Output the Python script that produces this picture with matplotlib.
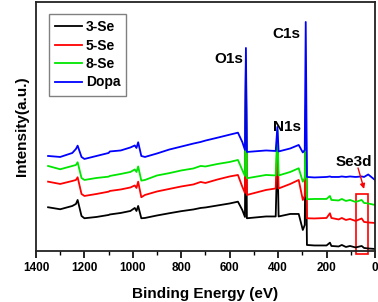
import matplotlib
matplotlib.use("Agg")
import matplotlib.pyplot as plt
from matplotlib.patches import Rectangle

plt.rcParams['font.family'] = ['Liberation Sans', 'DejaVu Sans']
plt.rcParams['font.weight'] = 'bold'

# Binding energy grid (eV)
energy = [1350, 1300, 1250, 1235, 1228, 1212, 1200, 1150, 1100, 1095, 1050, 1010,
          992, 985, 978, 965, 950, 900, 850, 800, 750, 720, 700, 650, 600, 566,
          548, 537, 533, 529, 450, 410, 403, 398, 350, 315, 298, 290, 286, 281,
          250, 200, 186, 180, 150, 137, 120, 103, 80, 55, 45, 28, 0]

# Intensities (a.u.)
se3 = [43.7, 41.7, 45, 47, 51, 35, 32.7, 34, 36, 36.5, 38, 40, 43, 40, 45, 32.7,
       33, 35.5, 37.7, 39.8, 41.5, 43, 43.5, 45.5, 47.5, 49.3, 41, 34, 181, 32.7,
       34.5, 34.5, 101, 34.5, 37, 37, 21, 26, 131, 6, 5.5, 5.5, 8.3, 5, 4.5, 6,
       4, 5, 3.5, 5, 3, 2.5, 2]
se5 = [69.3, 67, 70, 71, 73.7, 57, 55, 57, 59.3, 60, 61.5, 63.5, 65.5, 63, 69.3,
       53.7, 56, 59.5, 62, 64.5, 66.5, 69, 68, 71.5, 74.5, 76, 64.3, 58, 189, 56,
       61, 62.5, 111, 62.5, 67, 71, 51, 55, 141, 32.7, 32.5, 33, 37.7, 33, 31.5,
       33, 31, 32, 30, 32.5, 29, 28.5, 28]
se8 = [85, 81.7, 85, 86, 88.7, 73, 71, 73, 74.3, 75, 77, 79, 81.5, 79, 84.5, 70.3,
       71, 75.5, 77.8, 80.5, 82.5, 85, 84.5, 87, 89, 91, 81, 75, 191, 72.7, 76,
       75.5, 121, 75.5, 79, 82.7, 69.3, 73, 146, 51.7, 52, 52, 55, 51, 50.5, 52,
       50, 51, 49, 51, 48, 47.5, 46]
dopa = [95, 94, 98, 102, 105.3, 94, 92, 95, 98, 99.5, 100.5, 103.5, 105.5, 103,
        108.7, 95, 94, 97.5, 101.4, 104.4, 107.4, 109, 110.4, 113.3, 116.3, 118.3,
        109, 101, 203, 99, 100.5, 100, 124, 99.5, 102.5, 106, 98.5, 101, 229, 74,
        73.5, 74, 74.5, 74, 74, 74.5, 74, 74.5, 74, 74.5, 74, 76.5, 71]

series = [("3-Se", se3, "#000000"), ("5-Se", se5, "#ff0000"),
          ("8-Se", se8, "#00e600"), ("Dopa", dopa, "#0000ff")]

fig = plt.figure(figsize=(3.78, 3.02), dpi=100)
ax = fig.add_axes([0.0952, 0.169, 0.8968, 0.8245])

for name, vals, col in series:
    ax.plot(energy, vals, color=col, lw=1.3, label=name)

ax.set_xlim(1400, 0)
ax.set_ylim(0, 249)
ax.set_xticks(range(0, 1401, 200))
ax.set_xticks(range(100, 1400, 200), minor=True)
ax.set_yticks([])
ax.tick_params(axis='x', which='major', direction='out', length=5, width=1.2,
               labelsize=8.5, pad=3)
ax.tick_params(axis='x', which='minor', direction='out', length=3, width=1.0)
for lab in ax.get_xticklabels():
    lab.set_fontweight('bold')
for sp in ax.spines.values():
    sp.set_linewidth(1.3)
    sp.set_color('#222222')

ax.set_xlabel("Binding Energy (eV)", fontsize=11, fontweight='bold', labelpad=9)
ax.set_ylabel("Intensity(a.u.)", fontsize=11, fontweight='bold', labelpad=5)

ax.text(545, 192, "O1s", ha='right', va='center', fontsize=11, fontweight='bold')
ax.text(310, 217, "C1s", ha='right', va='center', fontsize=11, fontweight='bold')
ax.text(307, 123.5, "N1s", ha='right', va='center', fontsize=11, fontweight='bold')
ax.text(89, 89, "Se3d", ha='center', va='center', fontsize=11, fontweight='bold')

ax.annotate("", xy=(45, 62), xytext=(70, 83),
            arrowprops=dict(arrowstyle='-|>', color='#ff0000', lw=1.0,
                            mutation_scale=7, shrinkA=0, shrinkB=0))
rect = Rectangle((80, -3), -53, 59.7, fill=False, edgecolor='#ff0000', lw=1.2,
                 clip_on=False)
ax.add_patch(rect)

leg = ax.legend(loc='upper left', bbox_to_anchor=(0.038, 0.952), borderaxespad=0,
                fontsize=10, handlelength=1.9, handletextpad=0.3,
                labelspacing=0.32, borderpad=0.45, fancybox=False, framealpha=1)
leg.get_frame().set_edgecolor('#808080')
leg.get_frame().set_linewidth(1.0)
for t in leg.get_texts():
    t.set_fontweight('bold')

fig.savefig("out.png", dpi=100)
